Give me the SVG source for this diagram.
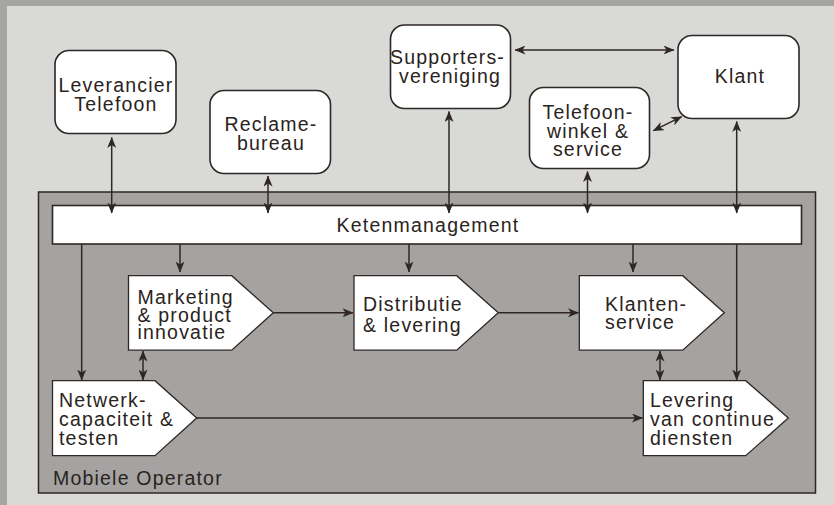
<svg xmlns="http://www.w3.org/2000/svg" width="834" height="505" viewBox="0 0 834 505">
<style>
text{font-family:"Liberation Sans",Arial,sans-serif;font-size:19.5px;letter-spacing:1.2px;fill:#2a2320}
.c{text-anchor:middle}
.n{fill:#fff;stroke:#2e2724;stroke-width:1.6}
.p{fill:#fff;stroke:#2e2724;stroke-width:1.3}
.l{fill:none;stroke:#2e2724;stroke-width:1.5}
</style>
<defs>
<marker id="a" markerUnits="userSpaceOnUse" markerWidth="11" markerHeight="9" refX="10.5" refY="4.5" orient="auto-start-reverse" viewBox="0 0 11 9">
<path d="M0,0 L11,4.5 L0,9 L3,4.5 z" fill="#2e2724"/>
</marker>
</defs>
<rect x="0" y="0" width="834" height="505" fill="#a5a5a3"/>
<rect x="7" y="6" width="827" height="499" fill="#d9d9d7"/>
<g id="operator">
<rect x="38.5" y="192" width="777" height="301" fill="#a4a3a1" stroke="#2e2724" stroke-width="1.5"/>
<text x="53" y="484.5">Mobiele Operator</text>
</g>
<g id="ketenmanagement">
<rect x="52.5" y="205.5" width="749" height="38.5" class="n" stroke-width="1.5"/>
<text x="428" y="232" class="c">Ketenmanagement</text>
</g>
<g id="leverancier">
<rect x="55" y="50.5" width="121" height="83" rx="14" class="n"/>
<text x="116" y="92" class="c">Leverancier</text>
<text x="116" y="110.5" class="c">Telefoon</text>
</g>
<g id="reclame">
<rect x="210" y="90.5" width="120.5" height="83" rx="14" class="n"/>
<text x="271" y="131" class="c">Reclame-</text>
<text x="271" y="149.5" class="c">bureau</text>
</g>
<g id="supporters">
<rect x="390.5" y="25" width="120" height="83.5" rx="14" class="n"/>
<text x="447.5" y="64" class="c">Supporters-</text>
<text x="450" y="82.5" class="c">vereniging</text>
</g>
<g id="telefoonwinkel">
<rect x="529.5" y="87.5" width="120" height="81" rx="14" class="n"/>
<text x="588" y="119" class="c">Telefoon-</text>
<text x="588" y="137.5" class="c">winkel &amp;</text>
<text x="588" y="156" class="c">service</text>
</g>
<g id="klant">
<rect x="678" y="35.5" width="121" height="83" rx="14" class="n"/>
<text x="740" y="82.5" class="c">Klant</text>
</g>
<g id="marketing">
<path d="M128.5,275.7 H231.7 L273.3,312.8 L231.7,350.2 H128.5 Z" class="p"/>
<text x="137.5" y="304">Marketing</text>
<text x="137.5" y="321.7">&amp; product</text>
<text x="137.5" y="339.3">innovatie</text>
</g>
<g id="distributie">
<path d="M354,275.7 H456.7 L498.3,312.8 L456.7,350.2 H354 Z" class="p"/>
<text x="363" y="310.7">Distributie</text>
<text x="363" y="331.5">&amp; levering</text>
</g>
<g id="klantenservice">
<path d="M579.3,275.7 H682.7 L724.3,312.8 L682.7,350.2 H579.3 Z" class="p"/>
<text x="605" y="310.7">Klanten-</text>
<text x="605" y="329.3">service</text>
</g>
<g id="netwerk">
<path d="M52.5,380.7 H155 L196.7,418 L155,455.7 H52.5 Z" class="p"/>
<text x="59" y="406.7">Netwerk-</text>
<text x="59" y="425.7">capaciteit &amp;</text>
<text x="59" y="445">testen</text>
</g>
<g id="levering">
<path d="M643.3,380.7 H745.7 L788.3,418 L745.7,455.7 H643.3 Z" class="p"/>
<text x="650" y="406.7">Levering</text>
<text x="650" y="426">van continue</text>
<text x="650" y="444.5">diensten</text>
</g>
<g id="connectors" class="l">
<path d="M111.7,137.5 V213" marker-start="url(#a)" marker-end="url(#a)"/>
<path d="M268,176 V213" marker-start="url(#a)" marker-end="url(#a)"/>
<path d="M449,111.5 V213" marker-start="url(#a)" marker-end="url(#a)"/>
<path d="M587.5,171.5 V213" marker-start="url(#a)" marker-end="url(#a)"/>
<path d="M736.7,121.5 V213" marker-start="url(#a)" marker-end="url(#a)"/>
<path d="M515,50 H674" marker-start="url(#a)" marker-end="url(#a)"/>
<path d="M653.3,130.7 L681.7,116.7" marker-start="url(#a)" marker-end="url(#a)"/>
<path d="M180,244 V272" marker-end="url(#a)"/>
<path d="M409,244 V272" marker-end="url(#a)"/>
<path d="M633,244 V272" marker-end="url(#a)"/>
<path d="M81.7,244 V380" marker-end="url(#a)"/>
<path d="M736.7,244 V380" marker-end="url(#a)"/>
<path d="M273.3,312.8 H353" marker-end="url(#a)"/>
<path d="M498.3,312.8 H578.5" marker-end="url(#a)"/>
<path d="M196.7,418 H642.5" marker-end="url(#a)"/>
<path d="M143,351 V380" marker-start="url(#a)" marker-end="url(#a)"/>
<path d="M660,351 V380" marker-start="url(#a)" marker-end="url(#a)"/>
</g>
</svg>
